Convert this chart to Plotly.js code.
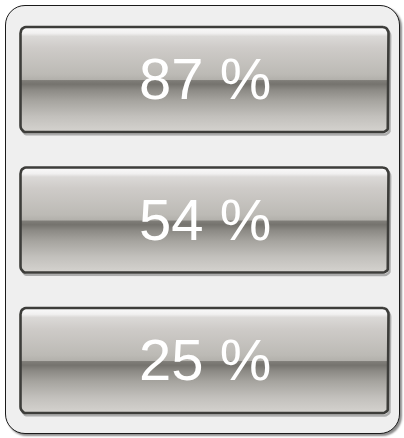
<!DOCTYPE html>
<html><head><meta charset="utf-8">
<script src="https://cdn.plot.ly/plotly-3.0.1.min.js"></script>
<style>
html,body{margin:0;padding:0;background:#fff;}
#wrap{position:relative;width:404px;height:438px;overflow:hidden;}
#panel{position:absolute;left:5px;top:5px;width:393px;height:427px;border:1px solid #1a1a1a;border-radius:20px;background:#efefef;box-shadow:2px 2px 2px rgba(0,0,0,0.45);}
#chart{position:absolute;left:0;top:0;width:404px;height:438px;}
</style></head>
<body><div id="wrap"><div id="panel"></div><div id="chart"></div></div>
<script>
// ---- data ----
const values = [87, 54, 25];
const rows = [0, 1, 2];
const labels = values.map(v => v + ' %');
const trackMin = 0, trackMax = 100;

// ---- styling ----
const halfH = 0.374;        // half box height in row units
const rx = 1.5, ry = 0.045; // corner radius in axis units
const metal = [
  [0.00, '#fbfbfb'], [0.06, '#f1f0f0'], [0.09, '#dbd9d7'], [0.20, '#cecbc8'],
  [0.45, '#bcbab5'], [0.50, '#b3b1ac'], [0.51, '#7f7d78'], [0.545, '#75736e'],
  [0.60, '#8c8a85'], [0.70, '#a6a49f'], [0.85, '#c2c0bc'], [1.00, '#d5d3cf']
];

function roundedRect(x0, x1, y0, y1) {
  const xs = [], ys = [];
  const n = 6;
  const corners = [
    [x1 - rx, y0 + ry, -Math.PI / 2, 0],
    [x1 - rx, y1 - ry, 0, Math.PI / 2],
    [x0 + rx, y1 - ry, Math.PI / 2, Math.PI],
    [x0 + rx, y0 + ry, Math.PI, 1.5 * Math.PI]
  ];
  corners.forEach(([cx, cy, a0, a1]) => {
    for (let k = 0; k <= n; k++) {
      const a = a0 + (a1 - a0) * k / n;
      xs.push(cx + rx * Math.cos(a));
      ys.push(cy + ry * Math.sin(a));
    }
  });
  xs.push(xs[0]); ys.push(ys[0]);
  return {xs, ys};
}

const traces = [];
rows.forEach((r) => {
  const y0 = r - halfH, y1 = r + halfH;
  const sh = roundedRect(trackMin + 0.45, trackMax + 0.45, y0 + 0.018, y1 + 0.018);
  traces.push({
    type: 'scatter', mode: 'lines', x: sh.xs, y: sh.ys,
    line: {color: 'rgba(0,0,0,0.28)', width: 2.5}, hoverinfo: 'skip', showlegend: false
  });
  const p = roundedRect(trackMin, trackMax, y0, y1);
  traces.push({
    type: 'scatter', mode: 'lines', x: p.xs, y: p.ys, fill: 'toself',
    fillgradient: {type: 'vertical', colorscale: metal, start: y0, stop: y1},
    line: {color: '#3d3d3a', width: 2.6}, hoverinfo: 'skip', showlegend: false
  });
});

const annotations = rows.map((r, i) => ({
  x: (trackMin + trackMax) / 2, y: r, xref: 'x', yref: 'y',
  text: labels[i], showarrow: false, xanchor: 'center', yanchor: 'middle', yshift: 1,
  font: {family: 'Liberation Sans, Arial, sans-serif', size: 58, color: '#ffffff'}
}));

const pxPerUnitX = 368 / (trackMax - trackMin);
const left = 20.5;
const pxPerRow = 140.5, firstCenter = 79.5;
const layout = {
  width: 404, height: 438,
  margin: {l: 0, r: 0, t: 0, b: 0},
  paper_bgcolor: 'rgba(0,0,0,0)', plot_bgcolor: 'rgba(0,0,0,0)',
  showlegend: false,
  annotations: annotations,
  xaxis: {range: [trackMin - left / pxPerUnitX, trackMin + (404 - left) / pxPerUnitX],
          visible: false, fixedrange: true},
  yaxis: {range: [(438 - firstCenter) / pxPerRow, -firstCenter / pxPerRow],
          visible: false, fixedrange: true}
};
Plotly.newPlot('chart', traces, layout, {staticPlot: true, displayModeBar: false});
</script>
</body></html>
